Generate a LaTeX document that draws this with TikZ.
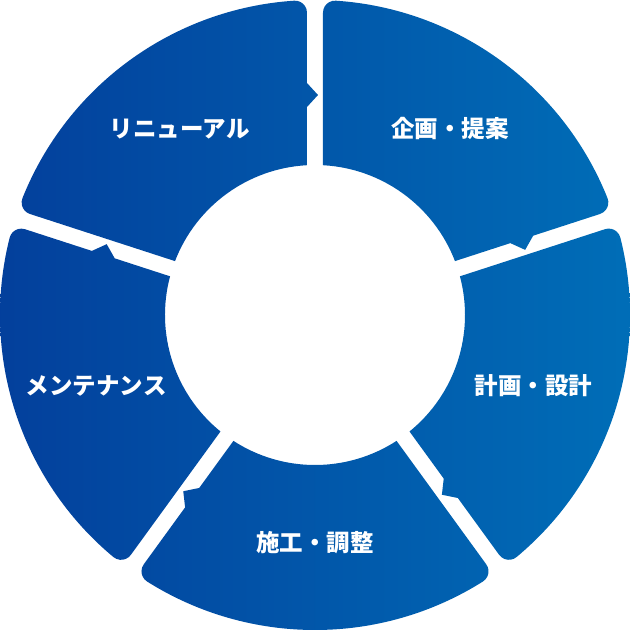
\documentclass[tikz,border=0pt]{standalone}
\usepackage{fontspec}
\usepackage{tikz}
\usetikzlibrary{calc}
\newfontfamily\jpfont{Noto Sans CJK JP}
\definecolor{ringleft}{HTML}{033E9B}
\definecolor{ringright}{HTML}{006FB8}

\begin{document}
\begin{tikzpicture}[x=1pt,y=1pt,
    seglabel/.style={text=white,font=\jpfont\bfseries\fontsize{23.5}{28}\selectfont}]
      \useasboundingbox (-315,-315) rectangle (315,315);

      % five ring pieces, one shading across all of them
      \shade[left color=ringleft,right color=ringright]
      foreach \a/\b in {90/18,18/-54,-54/-126,-126/-198,162/90} {
        ($(\a:149.79)+(\a-90:8)$) -- ($(\a:302.34)+(\a-90:8)$)
        arc[start angle={\a+90},end angle={\a-3.785},radius=12]
        arc[start angle={\a-3.785},end angle={\b+3.785},radius=315]
        arc[start angle={\b+3.785},end angle={\b-90},radius=12]
        -- ($(\b:232)+(\b+90:8)$) -- ($(\b:220)+(\b-90:3)$) -- ($(\b:208)+(\b+90:8)$)
        -- ($(\b:149.79)+(\b+90:8)$)
        arc[start angle={\b+3.057},end angle={\a-3.057},radius=150]
        -- cycle
      };

      \path
      (54:230) node[seglabel](kikaku) {企画・提案}
      (-18:230) node[seglabel](keikaku) {計画・設計}
      (-90:228) node[seglabel](sekou) {施工・調整}
      (198:230) node[seglabel](mainte) {メンテナンス}
      (126:230) node[seglabel](renew) {リニューアル}
      ;
    \end{tikzpicture}
\end{document}
